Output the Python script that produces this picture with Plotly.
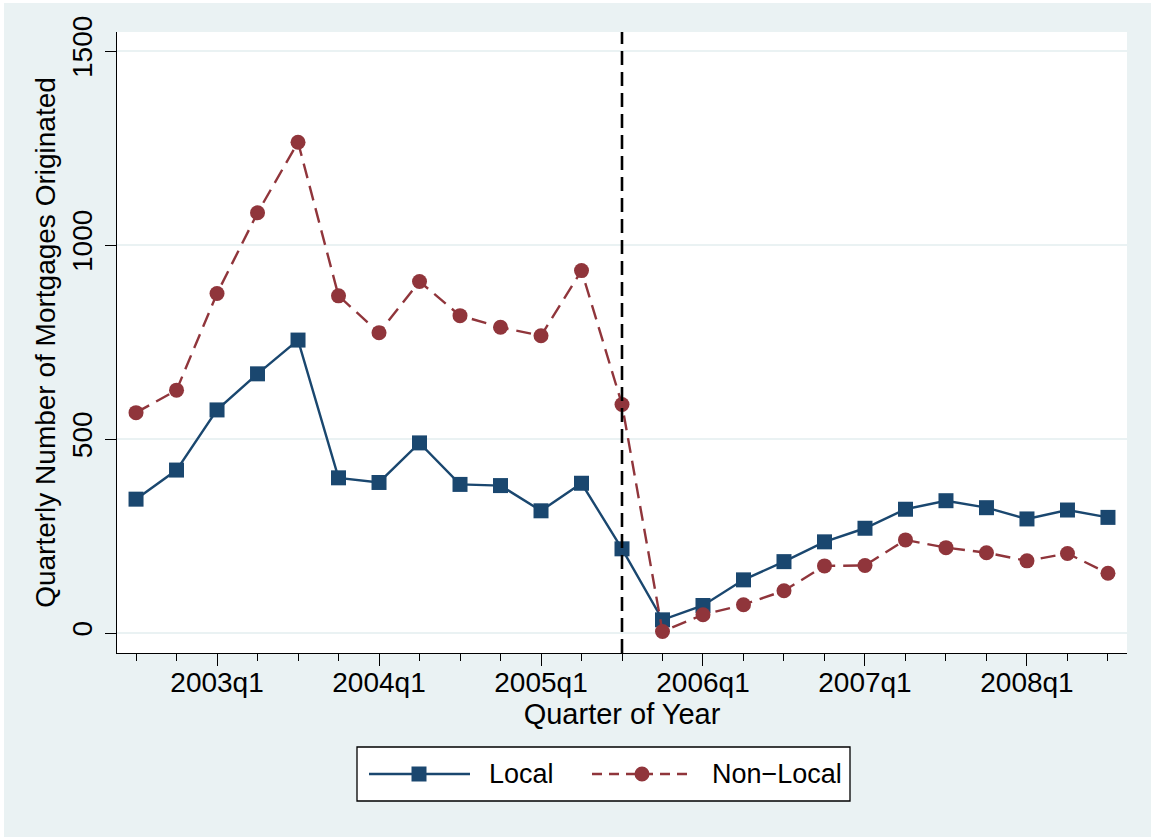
import plotly.graph_objects as go

quarters = ["2002q3", "2002q4", "2003q1", "2003q2", "2003q3", "2003q4",
            "2004q1", "2004q2", "2004q3", "2004q4", "2005q1", "2005q2",
            "2005q3", "2005q4", "2006q1", "2006q2", "2006q3", "2006q4",
            "2007q1", "2007q2", "2007q3", "2007q4", "2008q1", "2008q2", "2008q3"]
local = [345, 420, 575, 668, 755, 400, 388, 490, 383, 380, 315, 386,
         217, 34, 71, 137, 184, 235, 270, 319, 341, 323, 294, 317, 298]
non_local = [568, 626, 875, 1083, 1265, 869, 774, 906, 818, 788, 766, 934,
             589, 4, 47, 73, 109, 173, 174, 240, 220, 207, 186, 205, 154]
series_names = ["Local", "Non\u2212Local"]
cutoff_quarter = "2005q3"
y_ticks = [0, 500, 1000, 1500]

xi = list(range(len(quarters)))
major_idx = [i for i, q in enumerate(quarters) if q.endswith("q1")]
major_lab = [quarters[i] for i in major_idx]
cut_idx = quarters.index(cutoff_quarter)

NAVY = "#1a476f"
MAROON = "#90353b"
BG = "#eaf2f3"
FONT = "Liberation Sans, Arial, Helvetica, sans-serif"
LOCAL_DASH = "solid"
NONLOCAL_DASH = "15px,8px"
LW = 2.4

fig = go.Figure()
fig.add_trace(go.Scatter(
    x=xi, y=local, name=series_names[0], mode="lines+markers",
    line=dict(color=NAVY, width=LW, dash=LOCAL_DASH),
    marker=dict(symbol="square", size=15, color=NAVY),
))
fig.add_trace(go.Scatter(
    x=xi, y=non_local, name=series_names[1], mode="lines+markers",
    line=dict(color=MAROON, width=LW, dash=NONLOCAL_DASH),
    marker=dict(symbol="circle", size=15, color=MAROON),
))

W, H = 1151, 837
L, R, T, B = 117, 24, 32, 184
pw, ph = W - L - R, H - T - B
def px(x): return (x - L) / pw
def py(y): return (H - B - y) / ph

fig.update_layout(
    width=W, height=H,
    paper_bgcolor=BG, plot_bgcolor="white",
    margin=dict(l=L, r=R, t=T, b=B, pad=0),
    font=dict(family=FONT, size=28, color="black"),
    showlegend=False,
    xaxis=dict(
        range=[-0.47, len(quarters) - 1 + 0.47],
        tickmode="array", tickvals=major_idx, ticktext=major_lab,
        ticks="outside", ticklen=12, tickwidth=1.3, tickcolor="black",
        ticklabelstandoff=-8,
        showline=True, linecolor="black", linewidth=1.3,
        showgrid=False, zeroline=False,
        minor=dict(tickmode="linear", tick0=0, dtick=1, ticks="outside",
                   ticklen=7, tickwidth=1.3, tickcolor="black", showgrid=False),
        title=dict(text="Quarter of Year", standoff=0, font=dict(size=29)),
        tickfont=dict(size=28),
    ),
    yaxis=dict(
        range=[-51.5, 1549],
        tickmode="array", tickvals=y_ticks,
        ticks="outside", ticklen=11, tickwidth=1.3, tickcolor="black",
        tickangle=-90, ticklabelstandoff=2,
        showline=True, linecolor="black", linewidth=1.3,
        showgrid=True, gridcolor=BG, gridwidth=2,
        zeroline=False,
        title=dict(text="Quarterly Number of Mortgages Originated", standoff=2,
                   font=dict(size=28)),
        tickfont=dict(size=28),
    ),
)

# thin white border along the top and left edges of the image
fig.add_shape(type="rect", xref="paper", yref="paper",
              x0=px(0), x1=px(W), y0=py(0), y1=py(3),
              fillcolor="white", line=dict(width=0), layer="above")
fig.add_shape(type="rect", xref="paper", yref="paper",
              x0=px(0), x1=px(4), y0=py(0), y1=py(H),
              fillcolor="white", line=dict(width=0), layer="above")

# cutoff reference line
fig.add_vline(x=cut_idx, line=dict(color="black", width=2.6, dash="14px,7px"), layer="above")

# custom legend (Stata style: long key line with marker in the middle)
box = (357, 747, 850, 801)
fig.add_shape(type="rect", xref="paper", yref="paper",
              x0=px(box[0]), x1=px(box[2]), y0=py(box[1]), y1=py(box[3]),
              fillcolor="white", line=dict(color="black", width=1.3))
ky = 774
keys = [
    (369, 470, 419, NAVY, LOCAL_DASH, "square", 487, series_names[0]),
    (592, 693, 642, MAROON, "10px,7px", "circle", 710, series_names[1]),
]
for x0, x1, xm, col, dash, sym, tx, label in keys:
    fig.add_shape(type="line", xref="paper", yref="paper",
                  x0=px(x0), x1=px(x1), y0=py(ky), y1=py(ky),
                  line=dict(color=col, width=LW, dash=dash))
    r = 7.5
    fig.add_shape(type="rect" if sym == "square" else "circle",
                  xref="paper", yref="paper",
                  x0=px(xm - r), x1=px(xm + r), y0=py(ky - r), y1=py(ky + r),
                  fillcolor=col, line=dict(width=0))
    fig.add_annotation(xref="paper", yref="paper", x=px(tx), y=py(ky),
                       xanchor="left", yanchor="middle", showarrow=False,
                       text=label, font=dict(size=27, color="black", family=FONT))

fig.write_html("out.html")
